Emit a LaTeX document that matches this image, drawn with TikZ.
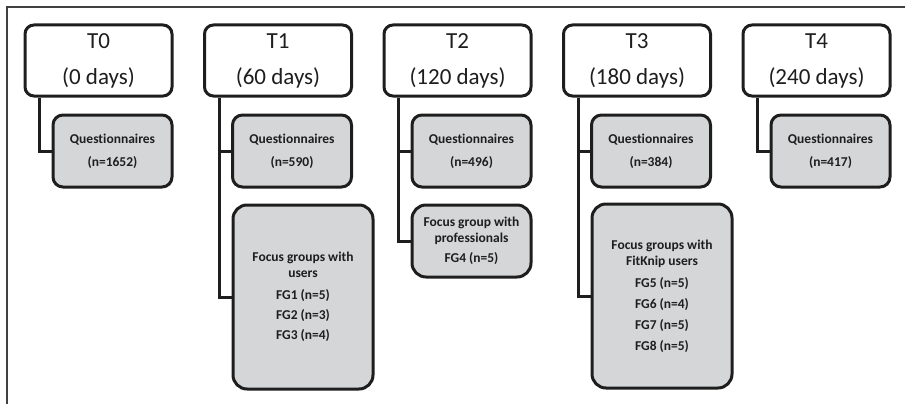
\documentclass[tikz,border=0pt]{standalone}
\usepackage{fontspec}
\setmainfont{Carlito}[Ligatures={NoCommon}]
\definecolor{boxgray}{RGB}{213,214,216}
\definecolor{ink}{RGB}{30,30,30}
\begin{document}
\begin{tikzpicture}[x=1pt,y=-1pt,
  hdr/.style={draw=ink, line width=3pt, rounded corners=9pt, fill=white,
    minimum width=147pt, minimum height=71pt, inner sep=0pt, align=center,
    text=ink, font=\fontsize{23}{36}\selectfont},
  qbox/.style={draw=ink, line width=3pt, rounded corners=10pt, fill=boxgray,
    minimum width=119pt, minimum height=72pt, inner sep=0pt, align=center,
    text=ink, font=\fontsize{13.5}{23}\selectfont\bfseries},
  fgbox/.style={draw=ink, line width=3pt, rounded corners=14pt, fill=boxgray,
    inner sep=0pt, align=center, text=ink,
    font=\fontsize{13.5}{16}\selectfont\bfseries},
  conn/.style={draw=ink, line width=3pt}]
\useasboundingbox (0,0) rectangle (905,404);
\draw[line width=1.5pt, black!75] (7,404) -- (7,7) -- (905,7);

% headers
\node[hdr] (h0) at (98.5,60.5) {T0\\(0 days)};
\node[hdr] (h1) at (278,60.5) {T1\\(60 days)};
\node[hdr] (h2) at (457.5,60.5) {T2\\(120 days)};
\node[hdr] (h3) at (637,60.5) {T3\\(180 days)};
\node[hdr] (h4) at (816.5,60.5) {T4\\(240 days)};

% questionnaires
\node[qbox] (q0) at (112.5,151) {Questionnaires\\(n=1652)};
\node[qbox] (q1) at (292,151) {Questionnaires\\(n=590)};
\node[qbox] (q2) at (471.5,151) {Questionnaires\\(n=496)};
\node[qbox] (q3) at (651,151) {Questionnaires\\(n=384)};
\node[qbox] (q4) at (830.5,151) {Questionnaires\\(n=417)};

% focus groups
\node[fgbox, minimum width=140pt, minimum height=184pt] (f1) at (303,297)
  {Focus groups with\\users\\[6pt]FG1 (n=5)\\[4pt]FG2 (n=3)\\[4pt]FG3 (n=4)};
\node[fgbox, minimum width=119pt, minimum height=72pt] (f2) at (471.5,241)
  {Focus group with\\professionals\\[4pt]FG4 (n=5)};
\node[fgbox, minimum width=140pt, minimum height=184pt] (f3) at (662,296)
  {Focus groups with\\FitKnip users\\[6pt]FG5 (n=5)\\[5pt]FG6 (n=4)\\[5pt]FG7 (n=5)\\[5pt]FG8 (n=5)};

% connectors
\draw[conn] ([xshift=16pt]h0.south west) |- (q0.west);
\draw[conn] ([xshift=16pt]h1.south west) |- (q1.west);
\draw[conn] ([xshift=16pt]h1.south west) |- (f1.west);
\draw[conn] ([xshift=16pt]h2.south west) |- (q2.west);
\draw[conn] ([xshift=16pt]h2.south west) |- (f2.west);
\draw[conn] ([xshift=16pt]h3.south west) |- (q3.west);
\draw[conn] ([xshift=16pt]h3.south west) |- (f3.west);
\draw[conn] ([xshift=16pt]h4.south west) |- (q4.west);
\end{tikzpicture}
\end{document}
